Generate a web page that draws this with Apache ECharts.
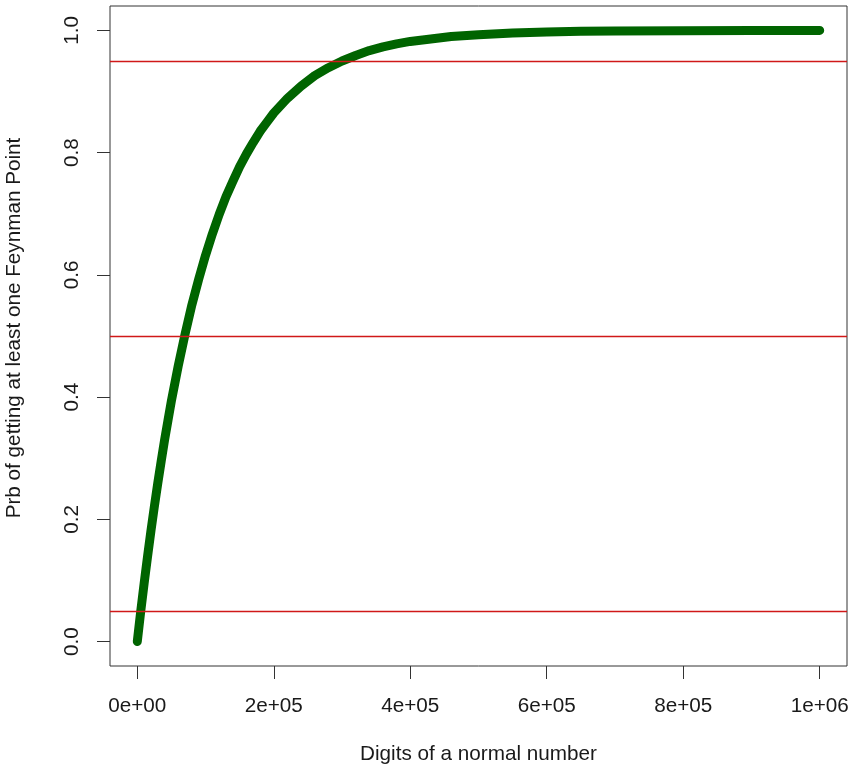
<!DOCTYPE html>
<html lang="en" style="height: 100%">
  <head>
    <meta charset="utf-8" />
  </head>
  <body style="height: 100%; margin: 0; background: #ffffff">
    <div id="container" style="width: 852px; height: 772px"></div>

    <script
      type="text/javascript"
      src="https://fastly.jsdelivr.net/npm/echarts@6.0.0/dist/echarts.min.js"
    ></script>
    <script type="text/javascript">
      var dom = document.getElementById("container");
      var myChart = echarts.init(dom, null, { renderer: "canvas" });

      // digits (x) and probability (y)
      const digits = [
        0, 5000, 10000, 15000, 20000, 25000, 30000, 35000, 40000, 45000,
        50000, 60000, 70000, 80000, 90000, 100000, 110000, 120000, 130000,
        140000, 150000, 160000, 170000, 180000, 190000, 200000, 220000,
        240000, 260000, 280000, 300000, 320000, 340000, 360000, 380000,
        400000, 430000, 460000, 500000, 550000, 600000, 650000, 700000,
        800000, 900000, 1000000,
      ];
      const prob = [
        0, 0.049, 0.095, 0.139, 0.181, 0.221, 0.259, 0.295, 0.33, 0.362,
        0.394, 0.451, 0.503, 0.551, 0.593, 0.632, 0.667, 0.699, 0.728,
        0.753, 0.777, 0.798, 0.817, 0.835, 0.85, 0.865, 0.889, 0.909,
        0.926, 0.939, 0.95, 0.959, 0.967, 0.973, 0.978, 0.982, 0.986,
        0.99, 0.993, 0.996, 0.9975, 0.9985, 0.999, 0.9997, 0.9999, 1.0,
      ];
      const refLines = [0.05, 0.5, 0.95];
      const xTicks = [0, 200000, 400000, 600000, 800000, 1000000];
      const xTickLabels = ["0e+00", "2e+05", "4e+05", "6e+05", "8e+05", "1e+06"];
      const yTicks = [0, 0.2, 0.4, 0.6, 0.8, 1.0];
      const yTickLabels = ["0.0", "0.2", "0.4", "0.6", "0.8", "1.0"];

      const font = "Liberation Sans";
      const fontSize = 20.7;
      const textColor = "#1a1a1a";
      const refColor = "#d01818";

      var option = {
        backgroundColor: "#ffffff",
        animation: false,
        grid: {
          left: 110,
          right: 5,
          top: 6,
          bottom: 106,
          outerBoundsMode: "none",
          containLabel: false,
          show: true,
          borderColor: "#333",
          borderWidth: 1,
          backgroundColor: "transparent",
        },
        xAxis: {
          type: "value",
          min: -40000,
          max: 1040000,
          name: "Digits of a normal number",
          nameLocation: "middle",
          nameGap: 78,
          nameTextStyle: { fontFamily: font, fontSize: fontSize, color: textColor },
          axisLine: { show: false, onZero: false },
          splitLine: { show: false },
          axisTick: {
            show: true,
            inside: false,
            length: 13,
            customValues: xTicks,
            lineStyle: { color: "#333" },
          },
          axisLabel: {
            margin: 30,
            fontFamily: font,
            fontSize: fontSize,
            color: textColor,
            customValues: xTicks,
            formatter: function (v) {
              return xTickLabels[xTicks.indexOf(v)];
            },
          },
        },
        yAxis: {
          type: "value",
          min: -0.04,
          max: 1.04,
          name: "Prb of getting at least one Feynman Point",
          nameLocation: "middle",
          nameRotate: 90,
          nameGap: 85,
          nameTextStyle: {
            fontFamily: font,
            fontSize: fontSize,
            color: textColor,
            padding: [0, 0, 0, 16],
          },
          axisLine: { show: false, onZero: false },
          splitLine: { show: false },
          axisTick: {
            show: true,
            inside: false,
            length: 13,
            customValues: yTicks,
            lineStyle: { color: "#333" },
          },
          axisLabel: {
            rotate: 90,
            margin: 27,
            fontFamily: font,
            fontSize: fontSize,
            color: textColor,
            customValues: yTicks,
            formatter: function (v) {
              var i = yTicks.findIndex(function (t) {
                return Math.abs(t - v) < 1e-9;
              });
              return yTickLabels[i];
            },
          },
        },
        series: [
          {
            type: "line",
            data: digits.map(function (d, i) {
              return [d, prob[i]];
            }),
            showSymbol: false,
            smooth: false,
            lineStyle: {
              color: "#006400",
              width: 9,
              cap: "round",
              join: "round",
            },
            z: 2,
          },
          {
            // reference levels (abline h = ...)
            type: "line",
            data: [],
            color: refColor,
            markLine: {
              silent: true,
              symbol: ["none", "none"],
              label: { show: false },
              lineStyle: { color: refColor, width: 1.4, type: "solid", opacity: 1 },
              data: refLines.map(function (v) {
                return { yAxis: v, lineStyle: { color: refColor, width: 1.4 } };
              }),
            },
            z: 3,
          },
        ],
      };

      myChart.setOption(option);
      window.addEventListener("resize", myChart.resize);
    </script>
  </body>
</html>
